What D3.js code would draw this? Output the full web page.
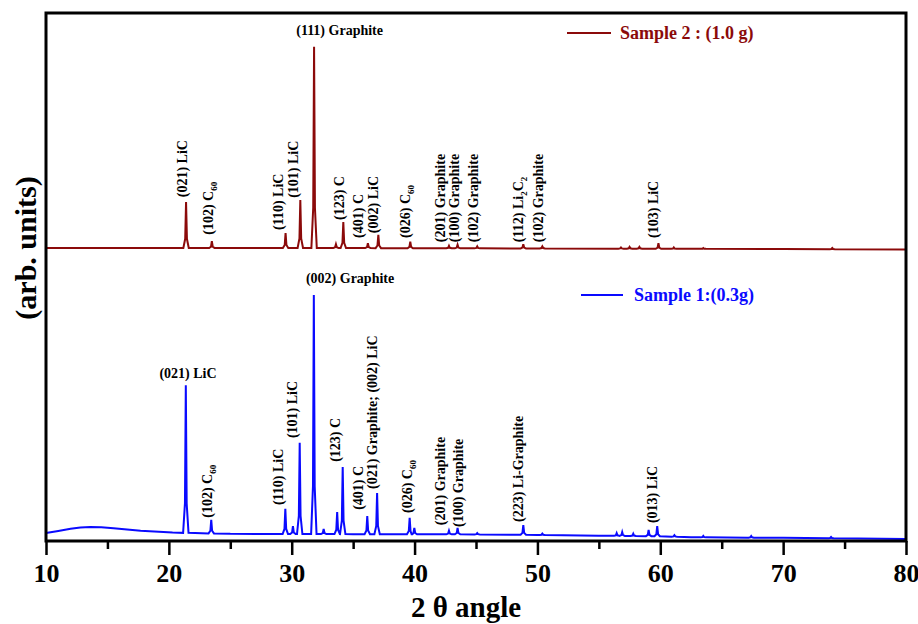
<!DOCTYPE html>
<html>
<head>
<meta charset="utf-8">
<script src="https://cdn.jsdelivr.net/npm/d3@7"></script>
<style>
  body { margin: 0; background: #fff; }
  svg text { font-family: "Liberation Serif", "Times New Roman", serif; font-weight: bold; }
</style>
</head>
<body>
<svg width="918" height="624"></svg>
<script>
// baseline of each pattern, [2theta, intensity]
const sample1Base = [[10,15],[11,19],[12,23],[12.8,25.5],[13.6,26.5],[14.5,26],[15.5,24],[17.7,19.5],[20.3,16],[25,13.5],[35,13],[45,12.5],[50,11.5],[55,10],[60,9],[62.5,7],[70,6],[80,4]];
const sample2Base = [[10,555],[30,555],[50,554],[70,553],[80,552]];

// peaks, [2theta, top intensity]
const sample1Peaks = [[21.38,295],[23.45,40],[29.48,61],[30.1,28],[30.65,186],[31.8,466],[32.6,23],[33.7,55],[34.15,140],
  [36.15,47],[36.95,91],[39.6,44],[39.98,25],[42.8,19.5],[43.5,25],[45.1,15],[48.85,30],[50.4,14],[56.45,15],[56.9,17],
  [57.8,14],[59.05,21],[59.75,28],[61.15,11],[63.5,9.5],[67.4,9.5],[73.9,7.5]];
const sample2Peaks = [[21.4,642],[23.5,568],[29.5,583],[30.7,646],[31.82,936],[33.6,562],[34.2,604],[36.2,564],[37.05,580],
  [39.65,567],[42.8,559],[43.5,561],[45.1,558],[48.85,562],[50.4,558],[56.8,556],[57.5,557],[58.3,557],[59.85,564],
  [61.1,556],[63.5,555],[74,555]];

// peak labels: text, 2theta, intensity where the text starts, rotated?
const sample2Labels = [
  ["(021) LiC",21.5,651,true],["(102) C_{60}",23.6,580,true],["(110) LiC",29.3,589,true],["(101) LiC",30.5,650,true],
  ["(111) Graphite",33.9,958,false],["(123) C",34.25,608,true],["(401) C",35.8,574,true],["(002) LiC",37.0,583,true],
  ["(026) C_{60}",39.6,574,true],["(201) Graphite",42.5,566,true],["(100) Graphite",43.6,566,true],
  ["(102) Graphite",45.2,566,true],["(112) Li_{2}C_{2}",48.8,566,true],["(102) Graphite",50.45,566,true],
  ["(103) LiC",59.8,574,true]];
const sample1Labels = [
  ["(002) Graphite",34.75,489,false],["(021) LiC",21.56,309,false],["(102) C_{60}",23.5,44,true],["(110) LiC",29.3,68,true],
  ["(101) LiC",30.43,195,true],["(123) C",33.93,150,true],["(401) C",35.8,59,true],["(021) Graphite; (002) LiC",36.94,98.5,true],
  ["(026) C_{60}",39.79,53,true],["(201) Graphite",42.48,30,true],["(100) Graphite",43.94,26.5,true],
  ["(223) Li-Graphite",48.82,36,true],["(013) LiC",59.73,34,true]];

const majorTicks = [10,20,30,40,50,60,70,80];
const minorTicks = [15,25,35,45,55,65,75];

const svg = d3.select("svg");
const margin = {left: 46, right: 12, top: 13, bottom: 83};
const width = +svg.attr("width");
const height = +svg.attr("height");

const x = d3.scaleLinear().domain([10, 80]).range([margin.left, width - margin.right]);
const y = d3.scaleLinear().domain([0, 1000]).range([height - margin.bottom, margin.top]);

// build the trace: baseline points away from peaks, plus a narrow spike per peak
function trace(base, peaks) {
  const b = d3.scaleLinear().domain(base.map(d => d[0])).range(base.map(d => d[1]));
  const half = 0.22;
  const pts = base.filter(d => !peaks.some(p => Math.abs(p[0] - d[0]) < half + 0.05));
  peaks.forEach(([p, top]) => {
    const foot = b(p);
    pts.push([p - half, foot], [p - 0.07, foot + (top - foot) * 0.2], [p, top],
             [p + 0.07, foot + (top - foot) * 0.2], [p + half, foot]);
  });
  return pts.sort((a, c) => a[0] - c[0]);
}

const line = d3.line().x(d => x(d[0])).y(d => y(d[1]));

svg.append("path")
  .attr("d", line(trace(sample2Base, sample2Peaks)))
  .attr("fill", "none").attr("stroke", "#8b0a0a").attr("stroke-width", 2);
svg.append("path")
  .attr("d", line(trace(sample1Base, sample1Peaks)))
  .attr("fill", "none").attr("stroke", "#0a0aff").attr("stroke-width", 2);

function addLabels(labels) {
  labels.forEach(([txt, pos, val, rot]) => {
    const t = svg.append("text").attr("font-size", 14).attr("fill", "#000");
    if (rot) {
      t.attr("transform", `translate(${x(pos)},${y(val)}) rotate(-90)`)
        .attr("dy", "0.35em").attr("text-anchor", "start");
    } else {
      t.attr("x", x(pos)).attr("y", y(val)).attr("text-anchor", "middle");
    }
    let sub = false;
    txt.split(/(_\{[^}]*\})/).filter(s => s).forEach(part => {
      if (part.startsWith("_{")) {
        t.append("tspan").text(part.slice(2, -1)).attr("font-size", 9).attr("dy", 4);
        sub = true;
      } else {
        t.append("tspan").text(part).attr("dy", sub ? -4 : 0);
        sub = false;
      }
    });
  });
}
addLabels(sample2Labels);
addLabels(sample1Labels);

// frame
svg.append("rect")
  .attr("x", margin.left).attr("y", margin.top)
  .attr("width", width - margin.left - margin.right)
  .attr("height", height - margin.top - margin.bottom)
  .attr("fill", "none").attr("stroke", "#000").attr("stroke-width", 3);

// x axis
const xAxis = svg.append("g").attr("transform", `translate(0,${height - margin.bottom})`)
  .call(d3.axisBottom(x).tickValues(majorTicks).tickSize(14).tickPadding(9).tickFormat(d3.format("d")));
xAxis.select(".domain").remove();
xAxis.selectAll("line").attr("stroke-width", 2.5);
xAxis.selectAll("text").attr("font-size", 26).attr("fill", "#000")
  .style("font-family", '"Liberation Serif", serif').style("font-weight", "bold");

const minor = svg.append("g").attr("transform", `translate(0,${height - margin.bottom})`)
  .call(d3.axisBottom(x).tickValues(minorTicks).tickSize(8).tickFormat(""));
minor.select(".domain").remove();
minor.selectAll("line").attr("stroke-width", 2.5);

svg.append("text")
  .attr("x", 466).attr("y", 617)
  .attr("text-anchor", "middle").attr("font-size", 29)
  .text("2 θ angle");

svg.append("text")
  .attr("transform", `translate(36,248) rotate(-90)`)
  .attr("text-anchor", "middle").attr("font-size", 30)
  .text("(arb. units)");

// legend
const legend = [
  {name: "Sample 2 : (1.0 g)", color: "#8b0a0a", x0: 567, x1: 611, tx: 620, ly: 33},
  {name: "Sample 1:(0.3g)", color: "#0a0aff", x0: 581, x1: 623, tx: 634, ly: 295}
];
legend.forEach(l => {
  svg.append("line").attr("x1", l.x0).attr("x2", l.x1).attr("y1", l.ly).attr("y2", l.ly)
    .attr("stroke", l.color).attr("stroke-width", 2);
  svg.append("text").attr("x", l.tx).attr("y", l.ly).attr("dy", "0.35em")
    .attr("font-size", 18).attr("fill", l.color).text(l.name);
});
</script>
</body>
</html>
